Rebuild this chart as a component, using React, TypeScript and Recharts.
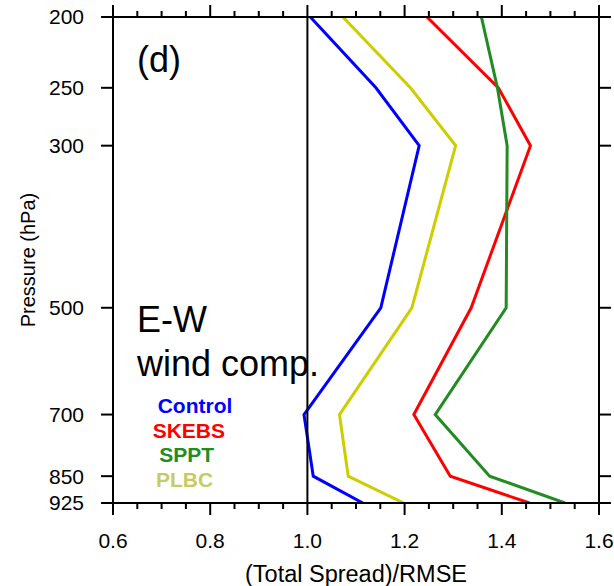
import React from 'react';
import { LineChart, Line, XAxis, YAxis, ReferenceLine, Customized } from 'recharts';

const FONT = '"Liberation Sans", Arial, Helvetica, sans-serif';

// Pressure levels (hPa)
const pressures = [200, 250, 300, 500, 700, 850, 925];
// (Total Spread)/RMSE per experiment
const control = [1.006, 1.141, 1.23, 1.151, 0.993, 1.012, 1.114];
const skebs = [1.246, 1.393, 1.459, 1.337, 1.219, 1.294, 1.457];
const sppt = [1.358, 1.391, 1.411, 1.409, 1.263, 1.375, 1.53];
const plbc = [1.073, 1.212, 1.305, 1.215, 1.066, 1.084, 1.198];

const pressureTicks = [200, 250, 300, 500, 700, 850, 925];
const xTicks = [
  0.6, 0.65, 0.7, 0.75, 0.8, 0.85, 0.9, 0.95, 1.0, 1.05, 1.1, 1.15, 1.2, 1.25, 1.3,
  1.35, 1.4, 1.45, 1.5, 1.55, 1.6,
];

const series = [
  { key: 'control', name: 'Control', color: '#0000FF', textColor: '#0000FF' },
  { key: 'skebs', name: 'SKEBS', color: '#FF0000', textColor: '#FF0000' },
  { key: 'sppt', name: 'SPPT', color: '#228B22', textColor: '#228B22' },
  { key: 'plbc', name: 'PLBC', color: '#CDCD00', textColor: '#C8CB64' },
];

const rows = pressures.map((p, i) => ({
  p,
  control: control[i],
  skebs: skebs[i],
  sppt: sppt[i],
  plbc: plbc[i],
}));

const isMajor = (v: number) => Math.abs(v * 5 - Math.round(v * 5)) < 1e-6;

const BottomTick = (props: any) => {
  const { x, y, payload } = props;
  const v = payload.value as number;
  const major = isMajor(v);
  return (
    <g>
      <line x1={x} x2={x} y1={y} y2={y + (major ? 12 : 6)} stroke="#000" strokeWidth={2} />
      {major && (
        <text x={x} y={y + 45} textAnchor="middle" fontSize={21} fontFamily={FONT} fill="#000">
          {v.toFixed(1)}
        </text>
      )}
    </g>
  );
};

const TopTick = (props: any) => {
  const { x, y, payload } = props;
  const v = payload.value as number;
  const major = isMajor(v);
  return (
    <g>
      <line x1={x} x2={x} y1={y} y2={y - (major ? 12 : 6)} stroke="#000" strokeWidth={2} />
    </g>
  );
};

const legendPos = [
  { x: 157.7, y: 413.3 },
  { x: 152.7, y: 437.7 },
  { x: 159.3, y: 461.7 },
  { x: 156, y: 486.7 },
];

const Annotations = () => (
  <g fontFamily={FONT}>
    <text x={137} y={72} fontSize={36} fill="#000">(d)</text>
    <text x={137} y={332} fontSize={36} fill="#000">E-W</text>
    <text x={137} y={376} fontSize={36} fill="#000">wind comp.</text>
    {series.map((s, i) => (
      <text
        key={s.key}
        x={legendPos[i].x}
        y={legendPos[i].y}
        fontSize={21}
        fontWeight="bold"
        fill={s.textColor}
      >
        {s.name}
      </text>
    ))}
    <text
      x={35}
      y={260}
      fontSize={20}
      fill="#000"
      textAnchor="middle"
      transform="rotate(-90, 35, 260)"
    >
      Pressure (hPa)
    </text>
    <text x={356} y={581.5} fontSize={23.5} fill="#000" textAnchor="middle">
      (Total Spread)/RMSE
    </text>
  </g>
);

export default function App() {
  return (
    <div style={{ position: 'absolute', left: 0, top: 0, fontFamily: FONT }}>
      <LineChart
        width={614}
        height={586}
        data={rows}
        layout="vertical"
        margin={{ top: 0, right: 0, bottom: 0, left: 0 }}
      >
        <XAxis
          type="number"
          domain={[0.6, 1.6]}
          ticks={xTicks}
          interval={0}
          allowDataOverflow
          height={83}
          tickSize={0}
          tickMargin={0}
          tickLine={false}
          axisLine={{ stroke: '#000', strokeWidth: 2 }}
          tick={<BottomTick />}
        />
        <XAxis
          xAxisId="top"
          orientation="top"
          type="number"
          domain={[0.6, 1.6]}
          ticks={xTicks}
          interval={0}
          allowDataOverflow
          height={17}
          tickSize={0}
          tickMargin={0}
          tickLine={false}
          axisLine={{ stroke: '#000', strokeWidth: 2 }}
          tick={<TopTick />}
        />
        <YAxis
          type="number"
          dataKey="p"
          scale="log"
          domain={[200, 925]}
          ticks={pressureTicks}
          interval={0}
          allowDataOverflow
          width={113}
          tickSize={12}
          tickMargin={17}
          tickLine={{ stroke: '#000', strokeWidth: 2 }}
          axisLine={{ stroke: '#000', strokeWidth: 2 }}
          tick={{ fontSize: 21, fill: '#000', fontFamily: FONT }}
        />
        <YAxis
          yAxisId="right"
          orientation="right"
          type="number"
          dataKey="p"
          scale="log"
          domain={[200, 925]}
          ticks={pressureTicks}
          interval={0}
          allowDataOverflow
          width={15}
          tickSize={12}
          tickMargin={0}
          tickFormatter={() => ''}
          tickLine={{ stroke: '#000', strokeWidth: 2 }}
          axisLine={{ stroke: '#000', strokeWidth: 2 }}
        />
        {series.map((s) => (
          <Line
            key={s.key}
            dataKey={s.key}
            stroke={s.color}
            strokeWidth={3}
            dot={false}
            activeDot={false}
            isAnimationActive={false}
            type="linear"
          />
        ))}
        <ReferenceLine x={1.0} stroke="#000" strokeWidth={2} />
        <Customized component={<Annotations />} />
      </LineChart>
    </div>
  );
}
